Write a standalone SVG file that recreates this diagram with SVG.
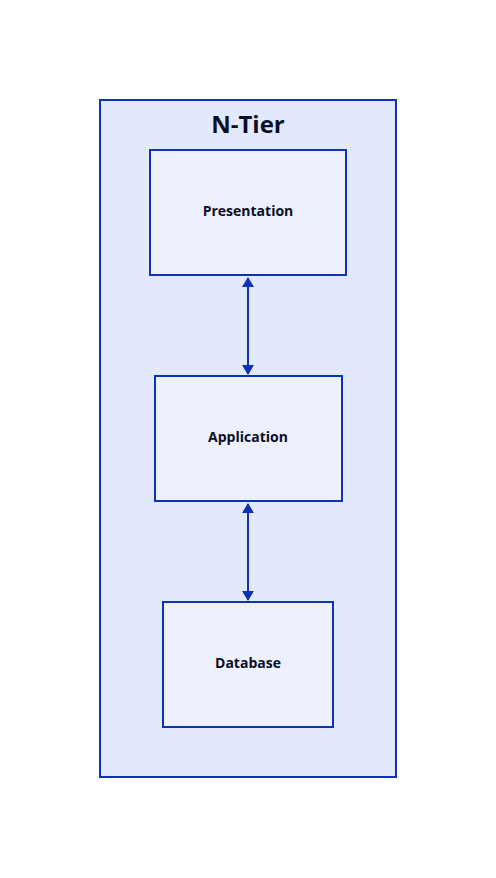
<svg xmlns="http://www.w3.org/2000/svg" width="496" height="878" viewBox="0 0 496 878">
<style>
.box{stroke:#0D32B2;stroke-width:2}
.outer{fill:#E3E9FD}
.inner{fill:#EDF0FD}
.lbl{font-family:"Open Sans","Noto Sans",sans-serif;font-weight:bold;fill:#0A0F25;text-anchor:middle}
.edge{stroke:#0D32B2;stroke-width:2;fill:none}
</style>
<defs>
<marker id="ah" viewBox="0 0 10 12" refX="9" refY="6" markerWidth="5" markerHeight="6" orient="auto-start-reverse" markerUnits="strokeWidth">
<polygon points="0,0 10,6 0,12" fill="#0D32B2"/>
</marker>
</defs>
<rect width="496" height="878" fill="#FFFFFF"/>
<g id="ntier">
<rect class="box outer" x="100" y="100" width="296" height="677"/>
<text class="lbl" x="248" y="133" font-size="24">N-Tier</text>
</g>
<g id="presentation">
<rect class="box inner" x="150" y="150" width="196" height="125"/>
<text class="lbl" x="248" y="216" font-size="14">Presentation</text>
</g>
<g id="application">
<rect class="box inner" x="155" y="376" width="187" height="125"/>
<text class="lbl" x="248" y="442" font-size="14">Application</text>
</g>
<g id="database">
<rect class="box inner" x="163" y="602" width="170" height="125"/>
<text class="lbl" x="248" y="668" font-size="14">Database</text>
</g>
<g id="connectors">
<path class="edge" d="M248,278 L248,374" marker-start="url(#ah)" marker-end="url(#ah)"/>
<path class="edge" d="M248,504 L248,600" marker-start="url(#ah)" marker-end="url(#ah)"/>
</g>
</svg>
